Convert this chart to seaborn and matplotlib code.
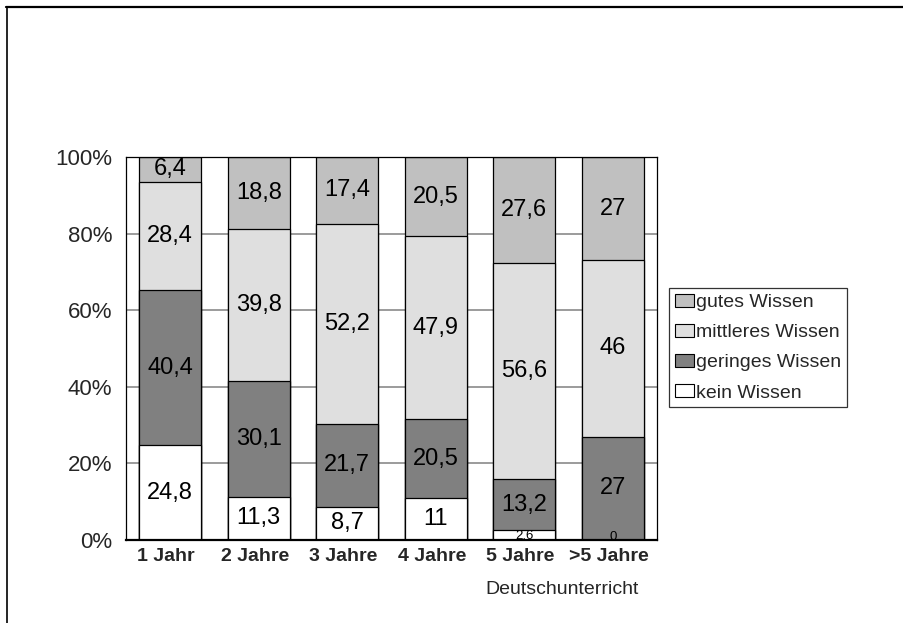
import numpy as np
import pandas as pd
import matplotlib
matplotlib.use("Agg")
import matplotlib.pyplot as plt
import matplotlib.transforms as mtransforms
from matplotlib.lines import Line2D
from matplotlib.patches import Patch
import seaborn as sns

# Teaching duration categories
categories = ["1 Jahr", "2 Jahre", "3 Jahre", "4 Jahre", "5 Jahre", ">5 Jahre"]

# Share of respondents per knowledge level (percent), bottom to top
kein = [24.8, 11.3, 8.7, 11, 2.6, 0]
geringes = [40.4, 30.1, 21.7, 20.5, 13.2, 27]
mittleres = [28.4, 39.8, 52.2, 47.9, 56.6, 46]
gutes = [6.4, 18.8, 17.4, 20.5, 27.6, 27]

series_names = ["kein Wissen", "geringes Wissen", "mittleres Wissen", "gutes Wissen"]
series_values = [kein, geringes, mittleres, gutes]
series_colors = ["#ffffff", "#808080", "#dfdfdf", "#c0c0c0"]

sns.set_theme(style="white")
plt.rcParams["font.family"] = ["Liberation Sans", "DejaVu Sans"]

fig = plt.figure(figsize=(9.04, 6.23), dpi=100)
ax = fig.add_axes([126 / 904, 1 - 540 / 623, (657 - 126) / 904, (540 - 157) / 623])

# Cumulative tops; draw the tallest stack first so lower segments cover it
vals = np.array(series_values, dtype=float)
cum = np.cumsum(vals, axis=0)
for i in range(len(series_names) - 1, -1, -1):
    df = pd.DataFrame({"Kategorie": categories, "Wert": cum[i]})
    sns.barplot(data=df, x="Kategorie", y="Wert", order=categories,
                color=series_colors[i], saturation=1, width=0.7,
                edgecolor="black", linewidth=0.9, ax=ax, zorder=2)

# Value labels at segment centres
for i in range(len(series_names)):
    for j, cat in enumerate(categories):
        v = vals[i, j]
        bottom = cum[i, j] - v
        txt = f"{v:g}".replace(".", ",")
        if v < 5:
            ax.text(j, max(bottom + v / 2, 0.9), txt, ha="center", va="center",
                    fontsize=9.5, color="black", zorder=4)
        else:
            ax.text(j, bottom + v / 2, txt, ha="center", va="center",
                    fontsize=17, color="black", zorder=4)

ax.set_ylim(0, 100)
ax.set_xlim(-0.5, 5.5)
ax.set_yticks([0, 20, 40, 60, 80, 100])
ax.set_yticklabels(["0%", "20%", "40%", "60%", "80%", "100%"], fontsize=16)
ax.set_xticks(range(len(categories)))
ax.set_xticklabels(categories, fontsize=14, fontweight="bold")
ax.tick_params(axis="both", length=0)
ax.tick_params(axis="y", pad=10)
ax.tick_params(axis="x", pad=6)
ax.set_xlabel("")
ax.set_ylabel("")

# Category labels sit slightly left of the bar centres
shift = mtransforms.ScaledTranslation(-4 / 100, 0, fig.dpi_scale_trans)
for lbl in ax.get_xticklabels():
    lbl.set_transform(lbl.get_transform() + shift)

ax.set_axisbelow(True)
ax.yaxis.grid(True, color="#808080", linewidth=1.1, zorder=0)
ax.xaxis.grid(False)
for side in ["left", "right", "top"]:
    ax.spines[side].set_visible(True)
    ax.spines[side].set_color("black")
    ax.spines[side].set_linewidth(0.9)
ax.spines["bottom"].set_visible(True)
ax.spines["bottom"].set_color("black")
ax.spines["bottom"].set_linewidth(1.6)

# Legend, top series first
handles = [Patch(facecolor=series_colors[i], edgecolor="black", linewidth=0.8)
           for i in range(len(series_names) - 1, -1, -1)]
labels = [series_names[i] for i in range(len(series_names) - 1, -1, -1)]
leg = fig.legend(handles, labels, loc="upper left",
                 bbox_to_anchor=(669 / 904, 1 - 288 / 623),
                 fontsize=14, frameon=True, fancybox=False,
                 handlelength=1.0, handleheight=0.65, handletextpad=0.1,
                 labelspacing=0.66, borderpad=0.3, borderaxespad=0)
leg.get_frame().set_edgecolor("black")
leg.get_frame().set_linewidth(0.9)

fig.text(639 / 904, 1 - 590 / 623, "Deutschunterricht", ha="right", va="center",
         fontsize=14)

# Outer frame lines
fig.add_artist(Line2D([6 / 904, 1], [1 - 7 / 623, 1 - 7 / 623],
                      transform=fig.transFigure, color="black", linewidth=1.6))
fig.add_artist(Line2D([7 / 904, 7 / 904], [1 - 7 / 623, 0],
                      transform=fig.transFigure, color="black", linewidth=1.2))

fig.savefig("out.png", dpi=100, facecolor="white")
